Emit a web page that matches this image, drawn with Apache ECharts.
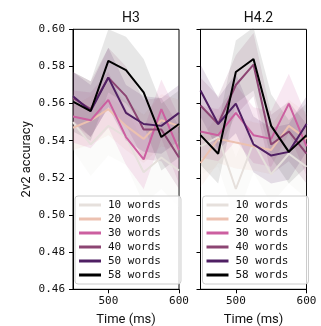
<!DOCTYPE html>
<html>
<head>
<meta charset="utf-8">
<script src="https://cdn.jsdelivr.net/npm/echarts@6/dist/echarts.min.js"></script>
<style>
  html, body { margin: 0; padding: 0; background: #fff; }
  #chart { width: 321px; height: 326px; }
</style>
</head>
<body>
<div id="chart"></div>
<script>
// time points (ms)
const times = ['450', '475', '500', '525', '550', '575', '600'];
const yTicks = [0.46, 0.48, 0.50, 0.52, 0.54, 0.56, 0.58, 0.60];
const xTickLabels = ['500', '600'];
const panelTitles = ['H3', 'H4.2'];
const names = ['10 words', '20 words', '30 words', '40 words', '50 words', '58 words'];
const colors = ['#e6e0dc', '#ecc1b0', '#cc5fa0', '#8c4573', '#4f1f63', '#000000'];

// mean accuracy, H3 panel
const h3_10 = [0.550, 0.538, 0.548, 0.542, 0.523, 0.531, 0.524];
const h3_20 = [0.547, 0.551, 0.557, 0.548, 0.541, 0.551, 0.548];
const h3_30 = [0.553, 0.551, 0.562, 0.542, 0.530, 0.557, 0.535];
const h3_40 = [0.563, 0.557, 0.574, 0.564, 0.546, 0.546, 0.531];
const h3_50 = [0.564, 0.556, 0.574, 0.555, 0.549, 0.548, 0.555];
const h3_58 = [0.561, 0.556, 0.583, 0.578, 0.566, 0.542, 0.549];

// mean accuracy, H4.2 panel
const h4_10 = [0.537, 0.542, 0.514, 0.539, 0.522, 0.533, 0.526];
const h4_20 = [0.528, 0.541, 0.539, 0.537, 0.535, 0.548, 0.541];
const h4_30 = [0.545, 0.543, 0.555, 0.543, 0.541, 0.560, 0.537];
const h4_40 = [0.559, 0.549, 0.570, 0.581, 0.538, 0.545, 0.533];
const h4_50 = [0.567, 0.549, 0.560, 0.538, 0.532, 0.534, 0.549];
const h4_58 = [0.543, 0.533, 0.577, 0.584, 0.548, 0.534, 0.543];

// half-width of the shaded interval, H3 panel
const h3ci_10 = [0.015, 0.017, 0.016, 0.015, 0.017, 0.017, 0.020];
const h3ci_20 = [0.012, 0.013, 0.014, 0.013, 0.013, 0.014, 0.014];
const h3ci_30 = [0.014, 0.015, 0.015, 0.015, 0.016, 0.016, 0.018];
const h3ci_40 = [0.014, 0.015, 0.016, 0.016, 0.016, 0.017, 0.017];
const h3ci_50 = [0.013, 0.014, 0.016, 0.015, 0.015, 0.015, 0.015];
const h3ci_58 = [0.016, 0.016, 0.017, 0.018, 0.018, 0.018, 0.018];

// half-width of the shaded interval, H4.2 panel
const h4ci_10 = [0.015, 0.016, 0.017, 0.016, 0.016, 0.016, 0.017];
const h4ci_20 = [0.013, 0.013, 0.014, 0.013, 0.013, 0.014, 0.014];
const h4ci_30 = [0.014, 0.014, 0.015, 0.015, 0.015, 0.016, 0.016];
const h4ci_40 = [0.015, 0.015, 0.016, 0.017, 0.016, 0.016, 0.016];
const h4ci_50 = [0.014, 0.014, 0.016, 0.015, 0.015, 0.015, 0.015];
const h4ci_58 = [0.016, 0.016, 0.017, 0.017, 0.017, 0.017, 0.017];

const panels = [
  { means: [h3_10, h3_20, h3_30, h3_40, h3_50, h3_58],
    cis: [h3ci_10, h3ci_20, h3ci_30, h3ci_40, h3ci_50, h3ci_58] },
  { means: [h4_10, h4_20, h4_30, h4_40, h4_50, h4_58],
    cis: [h4ci_10, h4ci_20, h4ci_30, h4ci_40, h4ci_50, h4ci_58] }
];

const gridLefts = [73, 200.5];
const gridW = 106;
const gridTop = 29.3;
const gridH = 260;

const tickFont = 'DejaVu Sans Mono';
const labelFont = 'Roboto';

function hexA(hex, a) {
  const n = parseInt(hex.slice(1), 16);
  return 'rgba(' + (n >> 16) + ',' + ((n >> 8) & 255) + ',' + (n & 255) + ',' + a + ')';
}

let series = [];
panels.forEach((p, pi) => {
  // bands first
  p.means.forEach((m, si) => {
    const ci = p.cis[si];
    const stack = 'band_' + pi + '_' + si;
    series.push({
      type: 'line', name: 'lo' + pi + si, xAxisIndex: pi, yAxisIndex: pi,
      stack: stack, data: m.map((v, i) => v - ci[i]),
      symbol: 'none', lineStyle: { opacity: 0 }, silent: true, z: 1
    });
    series.push({
      type: 'line', name: 'hi' + pi + si, xAxisIndex: pi, yAxisIndex: pi,
      stack: stack, data: ci.map(c => 2 * c),
      symbol: 'none', lineStyle: { opacity: 0 },
      areaStyle: { color: hexA(colors[si] === '#000000' ? '#555555' : colors[si], 0.2) },
      silent: true, z: 1
    });
  });
  // mean lines
  p.means.forEach((m, si) => {
    series.push({
      type: 'line', name: names[si], xAxisIndex: pi, yAxisIndex: pi,
      data: m, symbol: 'none',
      lineStyle: { color: colors[si], width: 2 },
      itemStyle: { color: colors[si] },
      z: 3 + si
    });
  });
});

const grids = gridLefts.map(l => ({
  left: l, top: gridTop, width: gridW, height: gridH,
  outerBoundsMode: 'none', containLabel: false,
  show: true, borderColor: '#000', borderWidth: 1, backgroundColor: 'transparent'
}));

const xAxes = gridLefts.map((l, i) => ({
  type: 'category', gridIndex: i, data: times, boundaryGap: false,
  name: 'Time (ms)', nameLocation: 'middle', nameGap: 24,
  nameTextStyle: { fontFamily: labelFont, fontSize: 13, color: '#111' },
  axisLine: { lineStyle: { color: '#000', width: 1 } },
  axisTick: { length: 4, lineStyle: { color: '#000' },
    interval: (idx, v) => xTickLabels.indexOf(v) >= 0 },
  axisLabel: { fontFamily: tickFont, fontSize: 11, color: '#111', margin: 6,
    interval: (idx, v) => xTickLabels.indexOf(v) >= 0 },
  splitLine: { show: false }
}));

const yAxes = gridLefts.map((l, i) => ({
  type: 'value', gridIndex: i, min: yTicks[0], max: yTicks[yTicks.length - 1], interval: 0.02,
  name: i === 0 ? '2v2 accuracy' : '', nameLocation: 'middle', nameGap: 40,
  nameTextStyle: { fontFamily: labelFont, fontSize: 13, color: '#111' },
  axisLine: { show: true, lineStyle: { color: '#000', width: 1 } },
  axisTick: { show: true, length: 4, lineStyle: { color: '#000' } },
  axisLabel: { show: i === 0, fontFamily: tickFont, fontSize: 11, color: '#111', margin: 8,
    formatter: v => v.toFixed(2) },
  splitLine: { show: false }
}));

const legends = gridLefts.map(l => ({
  orient: 'vertical', left: l + 2, top: 196,
  data: names, icon: 'rect', itemWidth: 22, itemHeight: 3, itemGap: 2,
  padding: [3, 20, 3, 4],
  backgroundColor: 'rgba(255,255,255,0.8)', borderColor: '#ccc', borderWidth: 1, borderRadius: 3,
  textStyle: { fontFamily: tickFont, fontSize: 11, color: '#111', lineHeight: 12, padding: [0, 0, 0, 2] },
  selectedMode: false
}));

const titles = panelTitles.map((t, i) => ({
  text: t, left: gridLefts[i] + gridW / 2, top: 6, textAlign: 'center',
  textStyle: { fontFamily: labelFont, fontSize: 14, fontWeight: 'normal', color: '#111' }
}));

const chart = echarts.init(document.getElementById('chart'), null, { renderer: 'canvas' });
chart.setOption({
  animation: false,
  title: titles,
  legend: legends,
  grid: grids,
  xAxis: xAxes,
  yAxis: yAxes,
  series: series
});
</script>
</body>
</html>
